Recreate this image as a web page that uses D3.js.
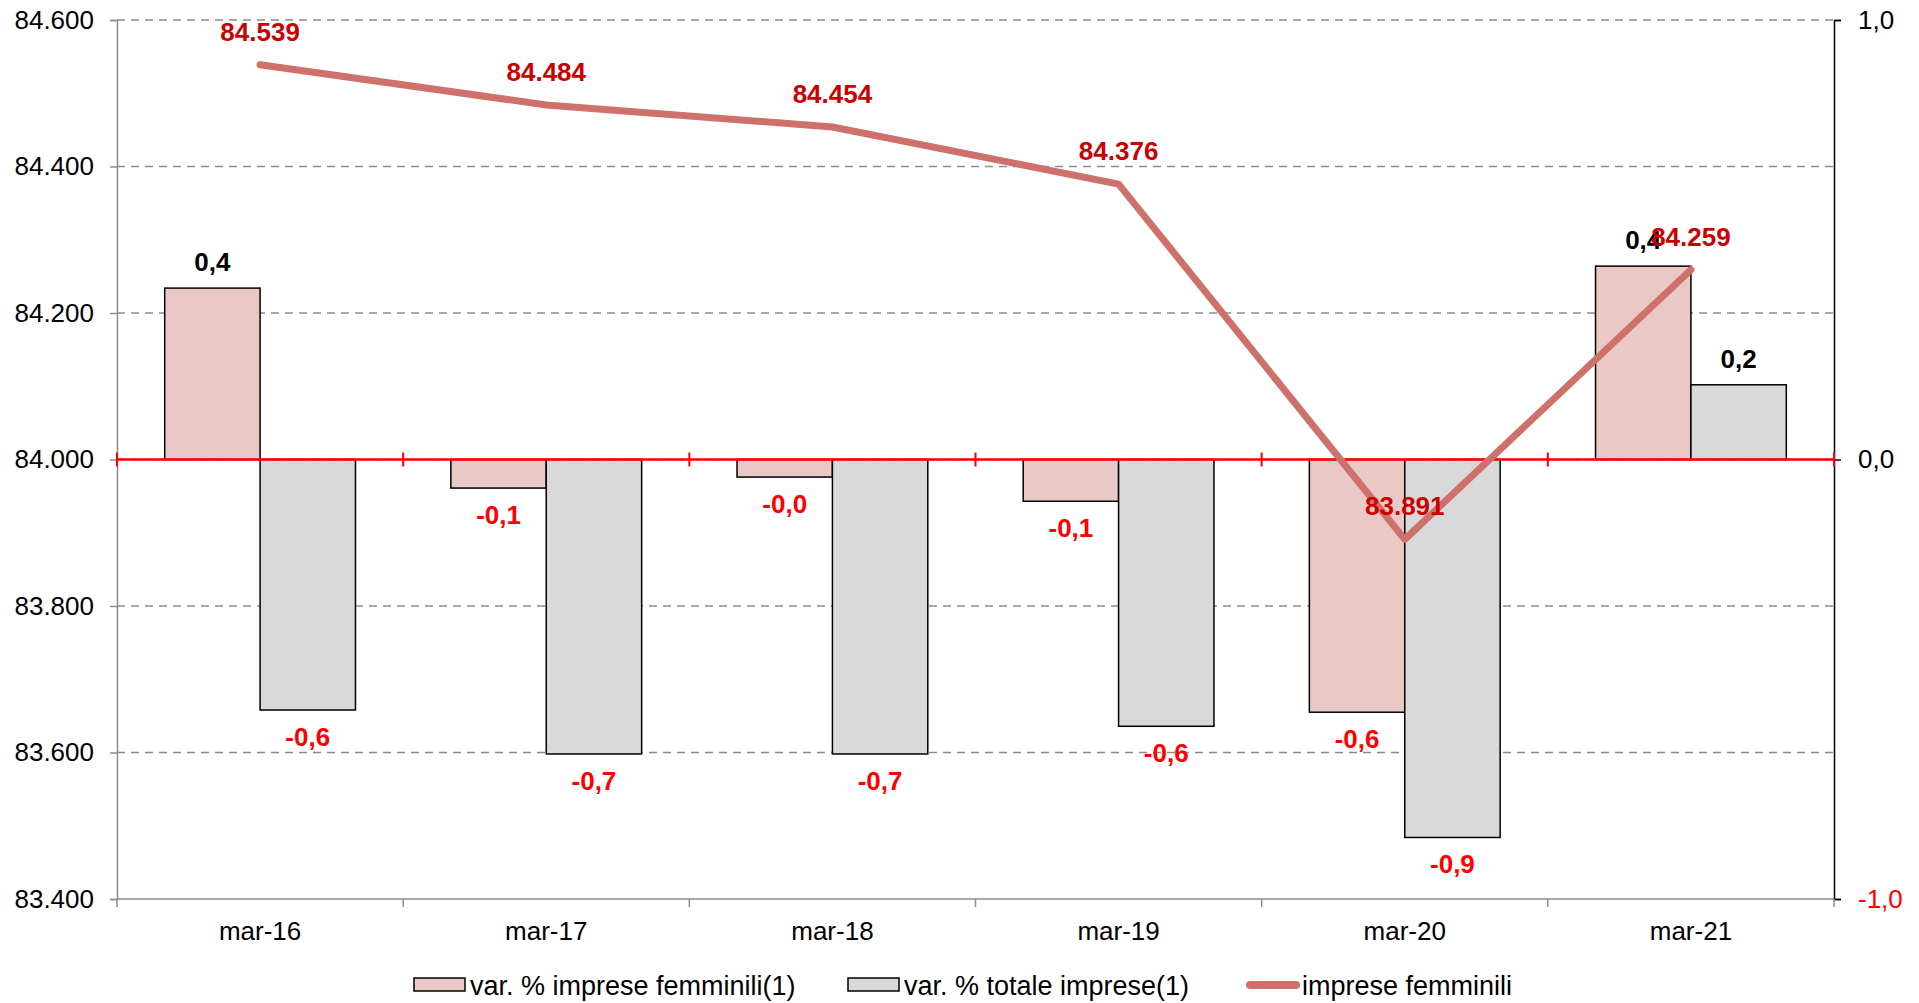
<!DOCTYPE html>
<html>
<head>
<meta charset="utf-8">
<script src="https://cdn.jsdelivr.net/npm/d3@7"></script>
<style>
  body { margin: 0; background: #fff; }
  text { font-family: Arial, "Liberation Sans", sans-serif; }
</style>
</head>
<body>
<svg id="chart" width="1919" height="1003"></svg>
<script>
// dati
var categorie = ["mar-16", "mar-17", "mar-18", "mar-19", "mar-20", "mar-21"]
var var_femminili = [0.39, -0.065, -0.04, -0.095, -0.575, 0.44]
var var_totale = [-0.57, -0.67, -0.67, -0.607, -0.86, 0.17]
var imprese_femminili = [84539, 84484, 84454, 84376, 83891, 84259]
var tick_sx = [83400, 83600, 83800, 84000, 84200, 84400, 84600]
var tick_dx = [-1, 0, 1]
var legenda = ["var. % imprese femminili(1)", "var. % totale imprese(1)", "imprese femminili"]

var svg = d3.select("#chart")
var pLeft = 117, pRight = 1834, pTop = 20, pBottom = 899

var x = d3.scaleBand().domain(categorie).range([pLeft, pRight])
var xs = d3.scaleBand().domain(["f", "t"]).range([0, x.bandwidth()]).paddingOuter(0.5)
var yL = d3.scaleLinear().domain([83400, 84600]).range([pBottom, pTop])
var yR = d3.scaleLinear().domain([-1, 1]).range([pBottom, pTop])

var loc = d3.formatLocale({decimal: ",", thousands: ".", grouping: [3], currency: ["€", ""], minus: "-"})
var fmtK = loc.format(",.0f")
function fmt1(v){
    return (v < 0 ? "-" : "") + Math.abs(v).toFixed(1).replace(".", ",")
}

// griglia
svg.append("g").selectAll("line").data(tick_sx.filter(function(d){ return d != 83400 })).enter()
    .append("line")
    .attr("x1", pLeft).attr("x2", pRight)
    .attr("y1", function(d){ return yL(d) }).attr("y2", function(d){ return yL(d) })
    .attr("stroke", "#8c8c8c").attr("stroke-width", 1.5).attr("stroke-dasharray", "8,6")

// asse sinistro
var axL = svg.append("g").attr("transform", "translate(" + pLeft + ",0)")
    .call(d3.axisLeft(yL).tickValues(tick_sx).tickFormat(fmtK).tickSize(7).tickPadding(16))
axL.select(".domain").attr("stroke", "#8c8c8c").attr("stroke-width", 1.5)
axL.selectAll(".tick line").attr("stroke", "#8c8c8c").attr("stroke-width", 1.5)
axL.selectAll(".tick text").attr("font-size", 26).attr("fill", "#000")
    .attr("font-family", "Arial, 'Liberation Sans', sans-serif")

// asse destro
var axR = svg.append("g").attr("transform", "translate(" + pRight + ",0)")
    .call(d3.axisRight(yR).tickValues(tick_dx).tickFormat(fmt1).tickSize(7).tickPadding(17))
axR.select(".domain").attr("stroke", "#000").attr("stroke-width", 1.5)
axR.selectAll(".tick line").attr("stroke", "#000").attr("stroke-width", 1.5)
axR.selectAll(".tick text").attr("font-size", 26)
    .attr("fill", function(d){ return d < 0 ? "#ff0000" : "#000" })
    .attr("font-family", "Arial, 'Liberation Sans', sans-serif")

// asse categorie in basso
var confini = categorie.map(function(c){ return x(c) }).concat([pRight])
svg.append("line").attr("x1", pLeft).attr("x2", pRight).attr("y1", pBottom).attr("y2", pBottom)
    .attr("stroke", "#8c8c8c").attr("stroke-width", 1.5)
svg.append("g").selectAll("line").data(confini).enter().append("line")
    .attr("x1", function(d){ return d }).attr("x2", function(d){ return d })
    .attr("y1", pBottom).attr("y2", pBottom + 8)
    .attr("stroke", "#8c8c8c").attr("stroke-width", 1.5)
svg.append("g").selectAll("text").data(categorie).enter().append("text")
    .attr("x", function(d){ return x(d) + x.bandwidth() / 2 })
    .attr("y", 940)
    .attr("text-anchor", "middle").attr("font-size", 26)
    .text(function(d){ return d })

// barre
var serie = [
    {key: "f", values: var_femminili, fill: "#eac8c6"},
    {key: "t", values: var_totale, fill: "#d9d9d9"}
]
serie.forEach(function(s){
    svg.append("g").selectAll("rect").data(s.values).enter().append("rect")
        .attr("x", function(d, i){ return x(categorie[i]) + xs(s.key) })
        .attr("width", xs.bandwidth())
        .attr("y", function(d){ return Math.min(yR(d), yR(0)) })
        .attr("height", function(d){ return Math.abs(yR(d) - yR(0)) })
        .attr("fill", s.fill).attr("stroke", "#000").attr("stroke-width", 1.5)
})

// linea dello zero (rossa)
svg.append("line").attr("x1", pLeft).attr("x2", pRight).attr("y1", yR(0)).attr("y2", yR(0))
    .attr("stroke", "#ff0000").attr("stroke-width", 2.5)
svg.append("g").selectAll("line").data(confini).enter().append("line")
    .attr("x1", function(d){ return d }).attr("x2", function(d){ return d })
    .attr("y1", yR(0) - 7).attr("y2", yR(0) + 7)
    .attr("stroke", "#ff0000").attr("stroke-width", 2)

// etichette barre
serie.forEach(function(s){
    svg.append("g").selectAll("text").data(s.values).enter().append("text")
        .attr("x", function(d, i){ return x(categorie[i]) + xs(s.key) + xs.bandwidth() / 2 })
        .attr("y", function(d){ return d >= 0 ? yR(d) - 17 : yR(d) + 36 })
        .attr("text-anchor", "middle").attr("font-size", 26).attr("font-weight", "bold")
        .attr("fill", function(d){ return d >= 0 ? "#000" : "#ff0000" })
        .text(function(d){ return fmt1(d) })
})

// linea imprese femminili
var linea = d3.line()
    .x(function(d, i){ return x(categorie[i]) + x.bandwidth() / 2 })
    .y(function(d){ return yL(d) })
svg.append("path").datum(imprese_femminili).attr("d", linea)
    .attr("fill", "none").attr("stroke", "#cd716a").attr("stroke-width", 7)
    .attr("stroke-linejoin", "round").attr("stroke-linecap", "round")
svg.append("g").selectAll("text").data(imprese_femminili).enter().append("text")
    .attr("x", function(d, i){ return x(categorie[i]) + x.bandwidth() / 2 })
    .attr("y", function(d){ return yL(d) - 24 })
    .attr("text-anchor", "middle").attr("font-size", 26).attr("font-weight", "bold")
    .attr("fill", "#cc0000")
    .text(function(d){ return fmtK(d) })

// legenda
var leg = svg.append("g")
var lx = [414, 848, 1246]
leg.append("rect").attr("x", lx[0]).attr("y", 978).attr("width", 51).attr("height", 13)
    .attr("fill", "#eac8c6").attr("stroke", "#000").attr("stroke-width", 1.5)
leg.append("rect").attr("x", lx[1]).attr("y", 978).attr("width", 51).attr("height", 13)
    .attr("fill", "#d9d9d9").attr("stroke", "#000").attr("stroke-width", 1.5)
leg.append("line").attr("x1", lx[2] + 4).attr("x2", lx[2] + 50).attr("y1", 985).attr("y2", 985)
    .attr("stroke", "#cd716a").attr("stroke-width", 8).attr("stroke-linecap", "round")
leg.selectAll("text").data(legenda).enter().append("text")
    .attr("x", function(d, i){ return lx[i] + 56 })
    .attr("y", 995)
    .attr("font-size", 27)
    .text(function(d){ return d })
</script>
</body>
</html>
